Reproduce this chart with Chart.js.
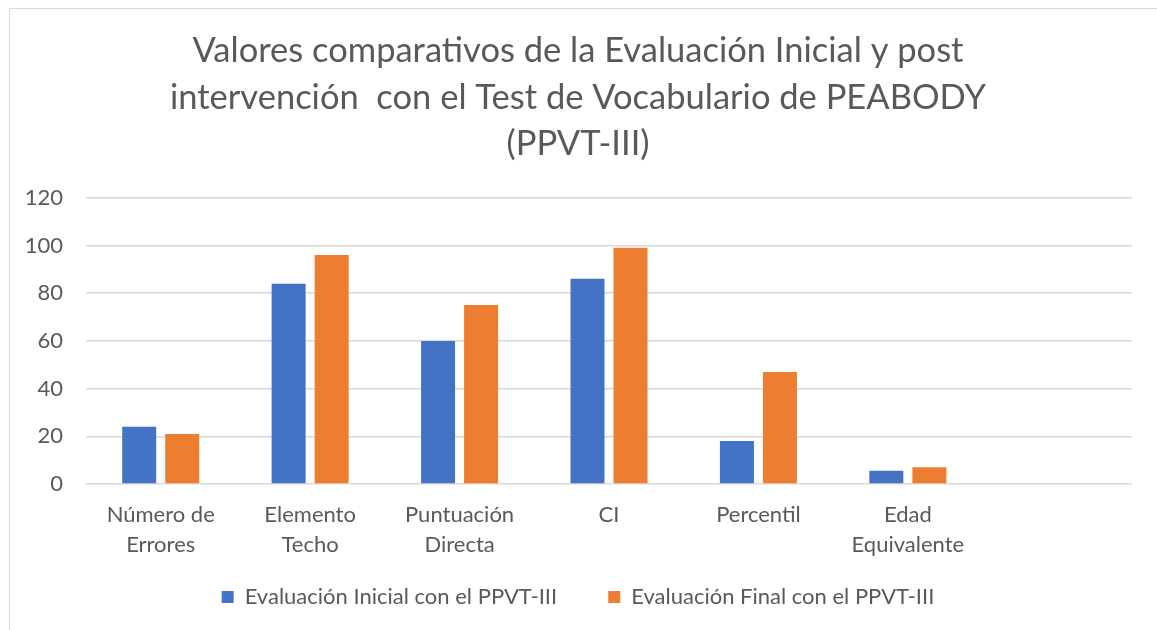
<!DOCTYPE html>
<html>
<head>
<meta charset="utf-8">
<script src="https://cdn.jsdelivr.net/npm/chart.js@4"></script>
<style>
  body { margin: 0; background: #fff; overflow: hidden; }
  #frame { position: absolute; left: 9px; top: 8px; width: 1200px; height: 700px; border: 1px solid #d9d9d9; }
  #wrap { position: absolute; left: 0; top: 0; width: 1157px; height: 630px; }
</style>
</head>
<body>
<div id="frame"></div>
<div id="wrap"><canvas id="chart" width="1157" height="630"></canvas></div>
<script>
// values
const categories = [['Número de', 'Errores'], ['Elemento', 'Techo'], ['Puntuación', 'Directa'], 'CI', 'Percentil', ['Edad', 'Equivalente'], ''];
const inicial = [24, 84, 60, 86, 18, 5.6, null];
const final = [21, 96, 75, 99, 47, 7, null];
const titleLines = ['Valores comparativos de la Evaluación Inicial y post', 'intervención  con el Test de Vocabulario de PEABODY', '(PPVT-III)'];
const seriesNames = ['Evaluación Inicial con el PPVT-III', 'Evaluación Final con el PPVT-III'];

const textColor = '#595959';
const fontName = 'Lato';

const ctx = document.getElementById('chart').getContext('2d');
new Chart(ctx, {
    type: 'bar',
    data: {
        labels: categories,
        datasets: [{
            label: seriesNames[0],
            data: inicial,
            backgroundColor: '#4472C4',
            categoryPercentage: 0.576,
            barPercentage: 0.79
        }, {
            label: seriesNames[1],
            data: final,
            backgroundColor: '#ED7D31',
            categoryPercentage: 0.576,
            barPercentage: 0.79
        }]
    },
    options: {
        responsive: false,
        animation: false,
        layout: { padding: { left: 24, right: 25, top: 27, bottom: 12 } },
        plugins: {
            title: {
                display: true,
                text: titleLines,
                color: textColor,
                font: { family: fontName, size: 34.5, weight: 'normal', lineHeight: 1.36 },
                padding: { top: 0, bottom: 30 }
            },
            legend: {
                position: 'bottom',
                labels: {
                    color: textColor,
                    font: { family: fontName, size: 22 },
                    boxWidth: 12,
                    boxHeight: 12,
                    padding: 23,
                    // widen the gap between the two entries a bit
                    generateLabels: (chart) => {
                        const items = Chart.defaults.plugins.legend.labels.generateLabels(chart);
                        items[0].text = items[0].text + '     ';
                        return items;
                    }
                }
            },
            tooltip: { enabled: false }
        },
        scales: {
            x: {
                afterFit: (s) => { s.height = 79; },
                grid: { display: false },
                border: { display: false },
                ticks: {
                    color: textColor,
                    font: { family: fontName, size: 22, lineHeight: 1.36 },
                    padding: 8,
                    maxRotation: 0,
                    autoSkip: false
                }
            },
            y: {
                min: 0,
                max: 120,
                afterFit: (s) => { s.width = 62; },
                grid: { color: '#d9d9d9', lineWidth: 1.5, drawTicks: false },
                border: { display: false },
                ticks: {
                    stepSize: 20,
                    color: textColor,
                    font: { family: fontName, size: 22 },
                    padding: 23
                }
            }
        }
    }
});
</script>
</body>
</html>
